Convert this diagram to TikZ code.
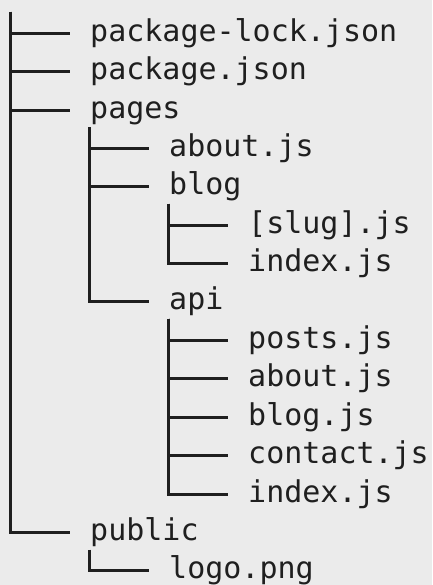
\documentclass[tikz,border=0pt]{standalone}
\usepackage{fontspec}
\setmonofont{DejaVu Sans Mono}
\usetikzlibrary{positioning}

\definecolor{paper}{HTML}{EBEBEB}
\definecolor{ink}{HTML}{1F1F1F}

\tikzset{
	entry/.style={anchor=west, inner sep=0pt, text=ink,
		font=\ttfamily\fontsize{30}{36}\selectfont,
		text height=24pt, text depth=8pt},
	branch/.style={draw=ink, line width=3pt},
}

\begin{document}
\begin{tikzpicture}[x=1pt, y=-1pt]

\fill[paper] (0,0) rectangle (432,585);
\useasboundingbox (0,0) rectangle (432,585);

% TOP LEVEL
\node[entry] (lock) at (90,33.5) {package-lock.json};
\node[entry] (pkg) at (90,71.5) {package.json};
\node[entry] (pages) at (90,110.5) {pages};
\node[entry] (public) at (90,532.5) {public};

% PAGES
\node[entry] (about) at (169,148.5) {about.js};
\node[entry] (blog) at (169,186.5) {blog};
\node[entry] (api) at (169,301.5) {api};

% BLOG
\node[entry] (slug) at (248,225.5) {[slug].js};
\node[entry] (blogindex) at (248,263.5) {index.js};

% API
\node[entry] (posts) at (248,340.5) {posts.js};
\node[entry] (apiabout) at (248,378.5) {about.js};
\node[entry] (blogjs) at (248,417.5) {blog.js};
\node[entry] (contact) at (248,455.5) {contact.js};
\node[entry] (apiindex) at (248,494.5) {index.js};

% PUBLIC
\node[entry] (logo) at (169,570.5) {logo.png};

% branches
\coordinate (root) at (10.5,12);
\foreach \c in {lock,pkg,pages,public}
	\draw[branch] (root) |- ([xshift=-20pt]\c.west);
\foreach \p/\c in {pages/about,pages/blog,pages/api,
		blog/slug,blog/blogindex,
		api/posts,api/apiabout,api/blogjs,api/contact,api/apiindex,
		public/logo}
	\draw[branch] ([xshift=-0.5pt,yshift=-17pt]\p.west) |- ([xshift=-20pt]\c.west);

\end{tikzpicture}
\end{document}
